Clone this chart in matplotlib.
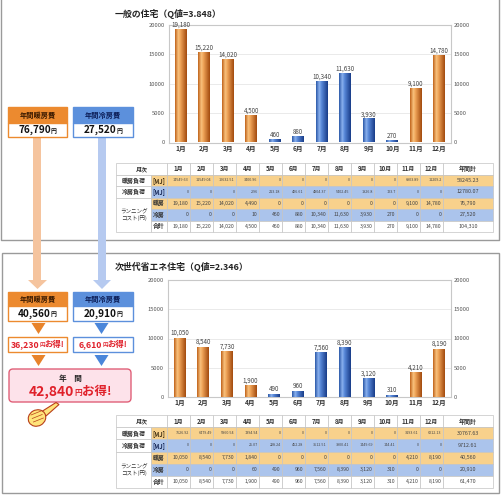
import numpy as np
import matplotlib
matplotlib.use('Agg')
import matplotlib.pyplot as plt
from matplotlib.patches import Rectangle, FancyBboxPatch, Polygon, Ellipse
from matplotlib.colors import LinearSegmentedColormap
from matplotlib.offsetbox import TextArea, HPacker, AnnotationBbox

plt.rcParams['font.family'] = ['Noto Sans CJK JP', 'DejaVu Sans']

# ---------------- data ----------------
months = ['1月', '2月', '3月', '4月', '5月', '6月', '7月', '8月', '9月', '10月', '11月', '12月']

# 一般の住宅 (Q=3.848)
title_1 = '一般の住宅（Q値=3.848）'
heat_mj_1 = [14549.63, 11549.04, 10632.51, 3400.96, 0, 0, 0, 0, 0, 0, 6903.89, 11209.2]
cool_mj_1 = [0, 0, 0, 2.96, 213.18, 406.61, 4804.37, 5402.45, 1826.8, 123.7, 0, 0]
heat_cost_1 = [19180, 15220, 14020, 4490, 0, 0, 0, 0, 0, 0, 9100, 14780]
cool_cost_1 = [0, 0, 0, 10, 460, 880, 10340, 11630, 3930, 270, 0, 0]
total_cost_1 = [19180, 15220, 14020, 4500, 460, 880, 10340, 11630, 3930, 270, 9100, 14780]
annual_1 = [58245.23, 12780.07, 76790, 27520, 104310]

# 次世代省エネ住宅 (Q=2.346)
title_2 = '次世代省エネ住宅（Q値=2.346）'
heat_mj_2 = [7626.92, 6479.49, 5860.54, 1394.94, 0, 0, 0, 0, 0, 0, 3193.61, 6212.13]
cool_mj_2 = [0, 0, 0, 25.07, 228.24, 452.28, 3512.51, 3900.41, 1449.69, 144.41, 0, 0]
heat_cost_2 = [10050, 8540, 7730, 1840, 0, 0, 0, 0, 0, 0, 4210, 8190]
cool_cost_2 = [0, 0, 0, 60, 490, 960, 7560, 8390, 3120, 310, 0, 0]
total_cost_2 = [10050, 8540, 7730, 1900, 490, 960, 7560, 8390, 3120, 310, 4210, 8190]
annual_2 = [30767.63, 9712.61, 40560, 20910, 61470]

y_ticks = [0, 5000, 10000, 15000, 20000]

# ---------------- style ----------------
W, H = 502, 495
ORANGE_CELL = '#F8D18C'
BLUE_CELL = '#ABC4EC'
ORANGE_HDR = '#EC8A2F'
BLUE_HDR = '#5C90DC'
RED = '#E0202A'
cmap_o = LinearSegmentedColormap.from_list('o', [(0, '#C0621A'), (0.28, '#F8C27E'), (0.45, '#F0A458'), (1, '#A24A0E')])
cmap_b = LinearSegmentedColormap.from_list('b', [(0, '#2A58A8'), (0.28, '#8CB2EE'), (0.45, '#5A8ADA'), (1, '#183C88')])

fig = plt.figure(figsize=(W / 100, H / 100), dpi=100)
ov = fig.add_axes([0, 0, 1, 1], zorder=0)
ov.set_xlim(0, W)
ov.set_ylim(H, 0)
ov.axis('off')


def fr(l, t, r, b):
    return [l / W, 1 - b / H, (r - l) / W, (b - t) / H]


def rich(x, y, parts, z=6):
    boxes = [TextArea(t, textprops=dict(fontsize=s, color=c, fontweight=w)) for t, s, c, w in parts]
    pk = HPacker(children=boxes, align='baseline', pad=0, sep=0)
    ab = AnnotationBbox(pk, (x, y), xycoords='data', frameon=False, box_alignment=(0.5, 0.5), pad=0, zorder=z)
    ov.add_artist(ab)


# panels
ov.plot([1.5, 1.5, 499.5, 499.5], [0, 240, 240, 0], color='#9a9a9a', lw=1, zorder=1)
ov.add_patch(Rectangle((2, 253), 497.5, 240, fc='white', ec='#9a9a9a', lw=1, zorder=1))

# arrows between panels
ov.add_patch(Rectangle((33.5, 137), 8, 144, fc='#F5C49E', ec='none', zorder=2))
ov.add_patch(Polygon([(28, 280), (47, 280), (37.5, 289)], fc='#F5C49E', ec='none', zorder=2))
ov.add_patch(Rectangle((98, 137), 8, 144, fc='#B6CAF0', ec='none', zorder=2))
ov.add_patch(Polygon([(93, 280), (111, 280), (102, 289)], fc='#B6CAF0', ec='none', zorder=2))


def cost_box(x0, x1, y0, ym, y1, hcol, hcol_txt, edge, title, value):
    ov.add_patch(Rectangle((x0, y0), x1 - x0, ym - y0, fc=hcol, ec=edge, lw=1, zorder=3))
    ov.add_patch(Rectangle((x0, ym), x1 - x0, y1 - ym, fc='white', ec=edge, lw=1, zorder=3))
    ov.text((x0 + x1) / 2, (y0 + ym) / 2, title, ha='center', va='center', fontsize=5.2,
            fontweight='bold', color=hcol_txt, zorder=4)
    rich((x0 + x1) / 2, (ym + y1) / 2, [(f'{value:,}', 7.2, '#111', 'bold'), ('円', 4.2, '#111', 'bold')])


cost_box(8, 67, 107, 123, 137, ORANGE_HDR, '#3a1a00', '#EC8A2F', '年間暖房費', annual_1[2])
cost_box(73, 133, 107, 123, 137, BLUE_HDR, '#0c1e58', '#5C90DC', '年間冷房費', annual_1[3])
cost_box(8, 67, 292, 306, 321, ORANGE_HDR, '#3a1a00', '#EC8A2F', '年間暖房費', annual_2[2])
cost_box(73, 133, 292, 306, 321, BLUE_HDR, '#0c1e58', '#5C90DC', '年間冷房費', annual_2[3])

# savings
save_heat = annual_1[2] - annual_2[2]
save_cool = annual_1[3] - annual_2[3]
save_total = annual_1[4] - annual_2[4]

for cx, col in [(38.5, '#E8832A'), (101.5, '#4A86DA')]:
    ov.add_patch(Polygon([(cx - 7, 323), (cx + 7, 323), (cx, 334)], fc=col, ec='none', zorder=3))
    ov.add_patch(Polygon([(cx - 7, 355), (cx + 7, 355), (cx, 366)], fc=col, ec='none', zorder=3))

ov.add_patch(Rectangle((8, 337), 59, 15, fc='white', ec='#EC8A2F', lw=1, zorder=3))
ov.add_patch(Rectangle((73, 337), 60, 15, fc='white', ec='#5C90DC', lw=1, zorder=3))
rich(37.5, 344.5, [(f'{save_heat:,}', 6.3, RED, 'bold'), ('円', 4.0, RED, 'bold'), ('お得!', 6.0, RED, 'bold')])
rich(103, 344.5, [(f'{save_cool:,}', 6.3, RED, 'bold'), ('円', 4.0, RED, 'bold'), ('お得!', 6.0, RED, 'bold')])

ov.add_patch(FancyBboxPatch((9, 369), 122, 33, boxstyle='round,pad=0,rounding_size=4',
                            fc='#FDE2EA', ec='#E06078', lw=1, zorder=3))
ov.text(70, 379, '年　間', ha='center', va='center', fontsize=5.5, fontweight='bold', color='#222', zorder=4)
rich(70, 391.5, [(f'{save_total:,}', 10, RED, 'bold'), ('円', 5.5, RED, 'bold'), ('お得!', 9, RED, 'bold')])

# pointing hand
HAND_EDGE = '#B8401A'
ov.add_patch(Polygon([(41, 412), (56, 402.5), (59, 404.5), (46, 416)], fc='#FFE47A', ec=HAND_EDGE, lw=0.8, zorder=5))
ov.add_patch(Ellipse((37, 418), 18, 16, angle=-30, fc='#FFE47A', ec=HAND_EDGE, lw=0.8, zorder=5))
for k in range(3):
    ov.plot([31 + k * 1.2, 41 + k * 1.2], [415 + k * 3.5, 411 + k * 3.5], color=HAND_EDGE, lw=0.5, zorder=6)


# tables
def draw_table(top, bottom, heat_mj, cool_mj, heat_cost, cool_cost, total_cost, annual):
    xl0, xl1, xl2, cw, xt = 116, 151, 167, 23, 493
    rh = (bottom - top) / 6
    ec = '#c4c4c4'

    def cell(x0, x1, r0, r1, fc):
        ov.add_patch(Rectangle((x0, top + r0 * rh), x1 - x0, (r1 - r0) * rh, fc=fc, ec=ec, lw=0.5, zorder=3))

    def yc(r):
        return top + (r + 0.5) * rh

    # header
    cell(xl0, xl2, 0, 1, 'white')
    ov.text((xl0 + xl2) / 2, yc(0), '月次', ha='center', va='center', fontsize=4.3, fontweight='bold', color='#333', zorder=4)
    for i, m in enumerate(months):
        x0 = xl2 + i * cw
        cell(x0, x0 + cw, 0, 1, 'white')
        ov.text(x0 + cw / 2, yc(0), m, ha='center', va='center', fontsize=4.3, fontweight='bold', color='#333', zorder=4)
    x_end = xl2 + 12 * cw
    cell(x_end, xt, 0, 1, 'white')
    ov.text((x_end + xt) / 2, yc(0), '年間計', ha='center', va='center', fontsize=4.3, fontweight='bold', color='#333', zorder=4)

    # labels
    cell(xl0, xl1, 1, 2, 'white')
    ov.text((xl0 + xl1) / 2, yc(1), '暖房負荷', ha='center', va='center', fontsize=4.3, fontweight='bold', color='#333', zorder=4)
    cell(xl1, xl2, 1, 2, ORANGE_CELL)
    ov.text((xl1 + xl2) / 2, yc(1), '[MJ]', ha='center', va='center', fontsize=4.3, fontweight='bold', color='#3a2a10', zorder=4)
    cell(xl0, xl1, 2, 3, 'white')
    ov.text((xl0 + xl1) / 2, yc(2), '冷房負荷', ha='center', va='center', fontsize=4.3, fontweight='bold', color='#333', zorder=4)
    cell(xl1, xl2, 2, 3, BLUE_CELL)
    ov.text((xl1 + xl2) / 2, yc(2), '[MJ]', ha='center', va='center', fontsize=4.3, fontweight='bold', color='#102050', zorder=4)
    cell(xl0, xl1, 3, 6, 'white')
    ov.text((xl0 + xl1) / 2, yc(4), 'ランニング\nコスト(円)', ha='center', va='center', fontsize=4.0,
            color='#333', linespacing=1.15, zorder=4)
    for r, lab, fc in [(3, '暖房', ORANGE_CELL), (4, '冷房', BLUE_CELL), (5, '合計', 'white')]:
        cell(xl1, xl2, r, r + 1, fc)
        ov.text((xl1 + xl2) / 2, yc(r), lab, ha='center', va='center', fontsize=4.2, fontweight='bold', color='#333', zorder=4)

    def fmt_mj(v):
        return ('%.2f' % v).rstrip('0').rstrip('.')

    rows = [(1, heat_mj, ORANGE_CELL, 'mj'), (2, cool_mj, BLUE_CELL, 'mj'),
            (3, heat_cost, ORANGE_CELL, 'c'), (4, cool_cost, BLUE_CELL, 'c'), (5, total_cost, 'white', 'c')]
    for (r, vals, fc, kind), tot in zip(rows, annual):
        for i, v in enumerate(vals):
            x0 = xl2 + i * cw
            cell(x0, x0 + cw, r, r + 1, fc)
            s = fmt_mj(v) if kind == 'mj' else f'{v:,}'
            ov.text(x0 + cw - 1.3, yc(r), s, ha='right', va='center',
                    fontsize=2.7 if kind == 'mj' else 3.7, color='#444', zorder=4)
        cell(x_end, xt, r, r + 1, fc)
        s = fmt_mj(tot) if kind == 'mj' else f'{tot:,}'
        ov.text((x_end + xt) / 2, yc(r), s, ha='center', va='center', fontsize=3.9, color='#444', zorder=4)


draw_table(163, 232, heat_mj_1, cool_mj_1, heat_cost_1, cool_cost_1, total_cost_1, annual_1)
draw_table(415, 488, heat_mj_2, cool_mj_2, heat_cost_2, cool_cost_2, total_cost_2, annual_2)

grad = np.linspace(0, 1, 64).reshape(1, -1)


def draw_chart(rect, title, title_y, totals, heat, cool):
    ov.text(115, title_y, title, ha='left', va='center', fontsize=6.4, fontweight='bold', color='#222', zorder=4)
    ax = fig.add_axes(rect, zorder=2)
    ax.set_facecolor('none')
    xs = np.arange(len(months))
    bars = ax.bar(xs, totals, width=0.5, color='none', edgecolor='none', zorder=3)
    for b, h_, c_ in zip(bars, heat, cool):
        x, w, h = b.get_x(), b.get_width(), b.get_height()
        ax.imshow(grad, cmap=cmap_o if h_ >= c_ else cmap_b, extent=[x, x + w, 0, h],
                  aspect='auto', interpolation='bilinear', zorder=3)
    for x, v in zip(xs, totals):
        ax.text(x, v + 200, f'{v:,}', ha='center', va='bottom', fontsize=4.5, color='#444', zorder=4)
    ax.set_xlim(-0.5, len(months) - 0.5)
    ax.set_ylim(0, 20000)
    ax.set_yticks(y_ticks)
    ax.set_xticks(xs)
    ax.set_xticklabels(months, fontsize=4.8, fontweight='bold', color='#333')
    ax.tick_params(axis='y', length=0, labelsize=4.2, labelcolor='#555', pad=3)
    ax.tick_params(axis='x', length=0, pad=1.5)
    ax.yaxis.grid(True, color='#e6e6e6', lw=0.6)
    ax.set_axisbelow(True)
    for s in ax.spines.values():
        s.set_color('#c8c8c8')
        s.set_linewidth(0.8)
    ax2 = ax.twinx()
    ax2.set_ylim(0, 20000)
    ax2.set_yticks(y_ticks)
    ax2.tick_params(axis='y', length=0, labelsize=4.2, labelcolor='#555', pad=2)
    for s in ax2.spines.values():
        s.set_visible(False)


draw_chart(fr(169, 25, 451, 142.5), title_1, 14, total_cost_1, heat_cost_1, cool_cost_1)
draw_chart(fr(168, 280, 451, 397), title_2, 267, total_cost_2, heat_cost_2, cool_cost_2)

fig.savefig('out.png', dpi=100)
